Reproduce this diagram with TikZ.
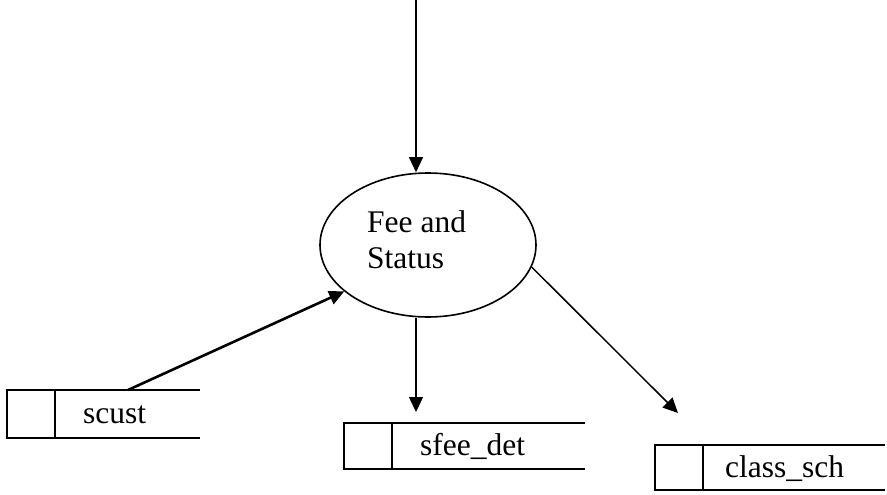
\documentclass[tikz,border=0pt]{standalone}
\usepackage{fontspec}
\setmainfont{Liberation Serif}
\usetikzlibrary{arrows.meta,calc,shapes.geometric}
\begin{document}
\begin{tikzpicture}[x=1pt,y=-1pt,
  proc/.style={ellipse,draw,line width=1.6pt,minimum width=216pt,minimum height=144pt,inner sep=0pt},
  txt/.style={font=\fontsize{31.5}{36}\selectfont,inner sep=0pt,anchor=base west,align=left},
  storebox/.style={rectangle,inner sep=0pt},
  storeline/.style={line width=1.8pt},
  flow/.style={line width=1.5pt,-{Triangle[length=15pt,width=14pt]}},
  thickflow/.style={line width=2.6pt,-{Triangle[length=15pt,width=14pt]}}]
\useasboundingbox (0,0) rectangle (887,495);
\node[proc] (proc) at (428,245) {};
\node[txt] (proclabel) at (367,268) {Fee and\\Status};
% data stores
\node[storebox,minimum width=193pt,minimum height=48pt] (scust) at (103.5,414) {};
\node[storebox,minimum width=241pt,minimum height=46pt] (sfee) at (464.5,446) {};
\node[storebox,minimum width=230pt,minimum height=45pt] (cls) at (770,467.5) {};
\foreach \s/\d in {scust/48, sfee/48, cls/48}{
  \draw[storeline] (\s.north east) -- (\s.north west) -- (\s.south west) -- (\s.south east);
  \draw[storeline] ($(\s.north west)+(\d,0)$) -- ($(\s.south west)+(\d,0)$);
}
\node[txt] (scusttext) at (83,423) {scust};
\node[txt] (sfeetext) at (420,455) {sfee\_det};
\node[txt] (clstext) at (725,477) {class\_sch};
% connectors
\coordinate (topin) at (416,0);
\coordinate (scustout) at (128,390);
\coordinate (sfeein) at (416,412);
\coordinate (clsin) at (678,413);
\draw[flow] (topin) -- (topin |- proc.north);
\draw[thickflow] (scustout) -- (proc.209);
\draw[flow] (sfeein |- proc.south) -- (sfeein);
\draw[flow] (proc.348) -- (clsin);
\end{tikzpicture}
\end{document}
